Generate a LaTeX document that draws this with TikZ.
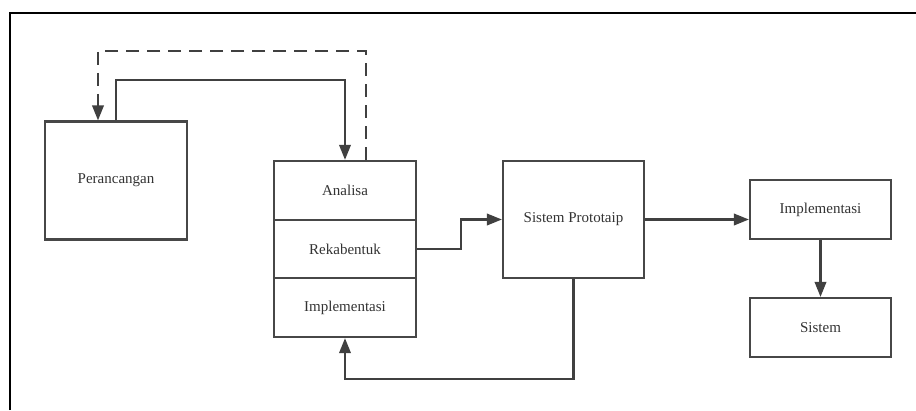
\documentclass[tikz,border=0pt]{standalone}
\usepackage{fontspec}
\setmainfont{Liberation Serif}
\usetikzlibrary{arrows.meta}
\usetikzlibrary{calc}

\begin{document}
\begin{tikzpicture}[x=1pt, y=-1pt,
    box/.style={draw=black!72, line width=2.2pt, text=black!80,
      font=\fontsize{15}{17}\selectfont, inner sep=0pt},
    arr/.style={draw=black!75, line width=2.1pt,
      -{Triangle[length=15pt,width=11.5pt]}}]
    \useasboundingbox (0,0) rectangle (916,410);
    % frame
    \draw[line width=1.5pt] (10,410) -- (10,13) -- (916,13);

    % boxes
    \node[box, minimum width=142pt, minimum height=118pt] (perancangan) at (116,180.5) {Perancangan};
    \node[box, minimum width=142pt, minimum height=58.7pt] (analisa) at (345,190.3) {Analisa};
    \node[box, minimum width=142pt, minimum height=58.7pt] (rekabentuk) at (345,249) {Rekabentuk};
    \node[box, minimum width=142pt, minimum height=58.7pt] (implstack) at (345,307.7) {Implementasi};
    \node[box, minimum width=141pt, minimum height=117pt] (prototaip) at (573.5,219.5) {Sistem Prototaip};
    \node[box, minimum width=141pt, minimum height=59pt] (implementasi) at (820.5,209.5) {Implementasi};
    \node[box, minimum width=141pt, minimum height=59pt] (sistem) at (820.5,327.5) {Sistem};

    % loop between perancangan and analisa
    \draw[arr] (perancangan.north) -- ++(0,-40) -| (analisa.north);
    \draw[arr, dash pattern=on 13pt off 8pt] ([xshift=21pt]analisa.north) -- ++(0,-109)
      -| ([xshift=-18pt]perancangan.north);

    % main flow
    \draw[arr] (rekabentuk.east) -- ++(44,0) |- (prototaip.west);
    \draw[arr] (prototaip.east) -- (prototaip.east -| implementasi.west);
    \draw[arr] (implementasi.south) -- (sistem.north);

    % feedback to the stack
    \draw[arr] (prototaip.south) -- ++(0,100) -| (implstack.south);
  \end{tikzpicture}
\end{document}
